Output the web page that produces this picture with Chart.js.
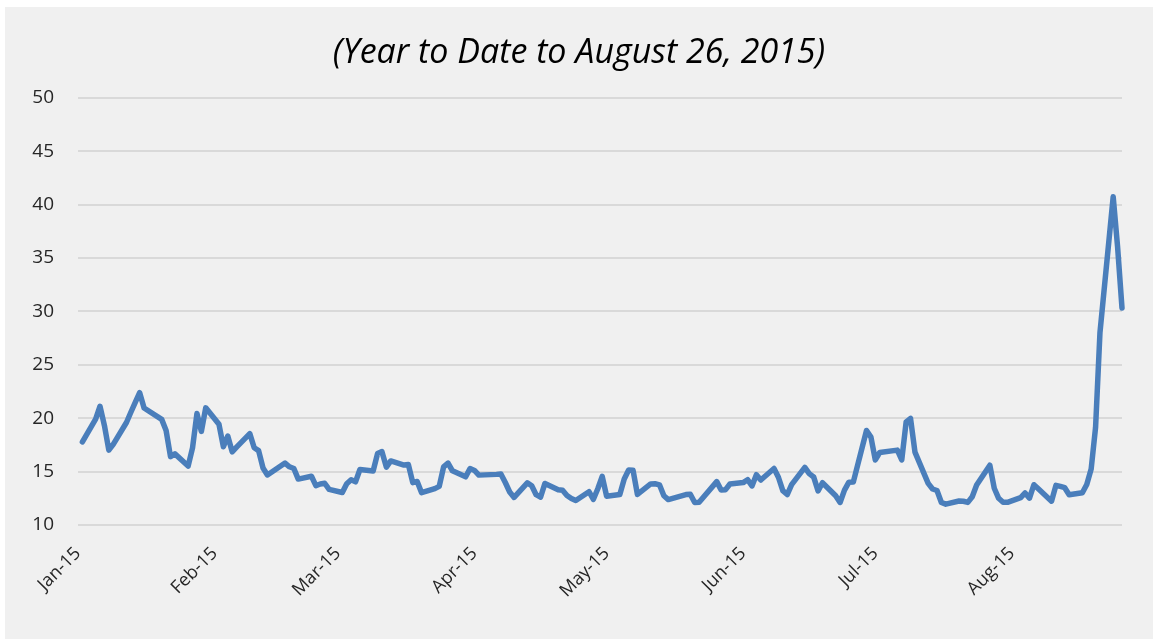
<!DOCTYPE html>
<html>
<head>
<meta charset="utf-8">
<script src="https://cdn.jsdelivr.net/npm/chart.js@4"></script>
<style>
    html, body { margin: 0; padding: 0; background: #ffffff; }
    #wrap { position: absolute; left: 5px; top: 7px; width: 1148px; height: 632px; background: #f0f0f0; }
</style>
</head>
<body>
<div id="wrap"><canvas id="vixChart"></canvas></div>
<script>
        const lineBlue = '#4A7EBB';
        const textDark = '#262626';
        const gridGray = '#d9d9d9';

        // trading days, Jan 2 - Aug 26 2015
        const tradeDates = [
            '2015-01-02','2015-01-05','2015-01-06','2015-01-07','2015-01-08','2015-01-09','2015-01-12','2015-01-13','2015-01-14','2015-01-15',
            '2015-01-16','2015-01-20','2015-01-21','2015-01-22','2015-01-23','2015-01-26','2015-01-27','2015-01-28','2015-01-29','2015-01-30',
            '2015-02-02','2015-02-03','2015-02-04','2015-02-05','2015-02-06','2015-02-09','2015-02-10','2015-02-11','2015-02-12','2015-02-13',
            '2015-02-17','2015-02-18','2015-02-19','2015-02-20','2015-02-23','2015-02-24','2015-02-25','2015-02-26','2015-02-27',
            '2015-03-02','2015-03-03','2015-03-04','2015-03-05','2015-03-06','2015-03-09','2015-03-10','2015-03-11','2015-03-12','2015-03-13',
            '2015-03-16','2015-03-17','2015-03-18','2015-03-19','2015-03-20','2015-03-23','2015-03-24','2015-03-25','2015-03-26','2015-03-27',
            '2015-03-30','2015-03-31',
            '2015-04-01','2015-04-02','2015-04-06','2015-04-07','2015-04-08','2015-04-09','2015-04-10','2015-04-13','2015-04-14','2015-04-15',
            '2015-04-16','2015-04-17','2015-04-20','2015-04-21','2015-04-22','2015-04-23','2015-04-24','2015-04-27','2015-04-28','2015-04-29',
            '2015-04-30',
            '2015-05-01','2015-05-04','2015-05-05','2015-05-06','2015-05-07','2015-05-08','2015-05-11','2015-05-12','2015-05-13','2015-05-14',
            '2015-05-15','2015-05-18','2015-05-19','2015-05-20','2015-05-21','2015-05-22','2015-05-26','2015-05-27','2015-05-28','2015-05-29',
            '2015-06-01','2015-06-02','2015-06-03','2015-06-04','2015-06-05','2015-06-08','2015-06-09','2015-06-10','2015-06-11','2015-06-12',
            '2015-06-15','2015-06-16','2015-06-17','2015-06-18','2015-06-19','2015-06-22','2015-06-23','2015-06-24','2015-06-25','2015-06-26',
            '2015-06-29','2015-06-30',
            '2015-07-01','2015-07-02','2015-07-06','2015-07-07','2015-07-08','2015-07-09','2015-07-10','2015-07-13','2015-07-14','2015-07-15',
            '2015-07-16','2015-07-17','2015-07-20','2015-07-21','2015-07-22','2015-07-23','2015-07-24','2015-07-27','2015-07-28','2015-07-29',
            '2015-07-30','2015-07-31',
            '2015-08-03','2015-08-04','2015-08-05','2015-08-06','2015-08-07','2015-08-10','2015-08-11','2015-08-12','2015-08-13','2015-08-14',
            '2015-08-17','2015-08-18','2015-08-19','2015-08-20','2015-08-21','2015-08-24','2015-08-25','2015-08-26'
        ];

        const vixClose = [
            17.79, 19.92, 21.12, 19.31, 17.01, 17.55, 19.60, 20.56, 21.48, 22.39,
            20.95, 19.89, 18.85, 16.40, 16.66, 15.52, 17.22, 20.44, 18.76, 20.97,
            19.43, 17.33, 18.33, 16.85, 17.29, 18.55, 17.23, 16.96, 15.34, 14.69,
            15.80, 15.45, 15.29, 14.30, 14.56, 13.69, 13.84, 13.91, 13.34,
            13.04, 13.86, 14.23, 14.04, 15.20, 15.06, 16.69, 16.87, 15.42, 16.00,
            15.61, 15.66, 13.97, 14.07, 13.02, 13.41, 13.62, 15.44, 15.80, 15.07,
            14.51, 15.29,
            15.11, 14.67, 14.74, 14.78, 13.98, 13.09, 12.58, 13.94, 13.67, 12.84,
            12.60, 13.89, 13.30, 13.25, 12.76, 12.48, 12.29, 13.12, 12.41, 13.39,
            14.55,
            12.70, 12.85, 14.31, 15.15, 15.13, 12.86, 13.85, 13.86, 13.76, 12.74,
            12.38, 12.73, 12.85, 12.88, 12.11, 12.13, 14.06, 13.27, 13.31, 13.84,
            13.97, 14.24, 13.66, 14.71, 14.21, 15.29, 14.47, 13.22, 12.85, 13.78,
            15.39, 14.81, 14.50, 13.19, 13.96, 12.74, 12.11, 13.26, 14.01, 14.02,
            18.85, 18.23,
            16.09, 16.79, 17.01, 16.09, 19.66, 19.97, 16.83, 13.90, 13.37, 13.23,
            12.11, 11.95, 12.25, 12.22, 12.12, 12.64, 13.74, 15.60, 13.44, 12.50,
            12.13, 12.12,
            12.56, 13.00, 12.51, 13.77, 13.39, 12.23, 13.71, 13.61, 13.49, 12.83,
            13.02, 13.79, 15.25, 19.14, 28.03, 40.74, 36.02, 30.32
        ];

        const monthStarts = ['2015-01-01','2015-02-01','2015-03-01','2015-04-01','2015-05-01','2015-06-01','2015-07-01','2015-08-01'];
        const monthLabels = ['Jan-15','Feb-15','Mar-15','Apr-15','May-15','Jun-15','Jul-15','Aug-15'];
        const yTicks = [10, 15, 20, 25, 30, 35, 40, 45, 50];

        // day number from Jan 1 so the x axis spaces calendar days like a date axis
        function dayNum(s) {
            const p = s.split('-').map(Number);
            return (Date.UTC(p[0], p[1] - 1, p[2]) - Date.UTC(2015, 0, 1)) / 86400000;
        }
        const monthDays = monthStarts.map(dayNum);

        const ctx = document.getElementById('vixChart').getContext('2d');
        new Chart(ctx, {
            type: 'line',
            data: {
                datasets: [{
                    label: 'VIX',
                    data: tradeDates.map((d, i) => ({ x: dayNum(d), y: vixClose[i] })),
                    borderColor: lineBlue,
                    borderWidth: 5.5,
                    pointRadius: 0,
                    tension: 0,
                    fill: false,
                    clip: false,
                    borderJoinStyle: 'round',
                    borderCapStyle: 'round'
                }]
            },
            options: {
                responsive: true,
                maintainAspectRatio: false,
                animation: false,
                layout: { padding: 0 },
                scales: {
                    x: {
                        type: 'linear',
                        min: monthDays[0],
                        max: dayNum(tradeDates[tradeDates.length - 1]),
                        grid: { display: false },
                        border: { display: false },
                        afterBuildTicks: function(scale) {
                            scale.ticks = monthDays.map(v => ({ value: v }));
                        },
                        afterFit: function(scale) { scale.height = 114; },
                        ticks: {
                            autoSkip: false,
                            minRotation: 45,
                            maxRotation: 45,
                            padding: 10,
                            color: textDark,
                            font: { family: 'Open Sans', size: 18 },
                            callback: function(value) {
                                const i = monthDays.indexOf(value);
                                return i >= 0 ? monthLabels[i] : '';
                            }
                        }
                    },
                    y: {
                        min: yTicks[0],
                        max: yTicks[yTicks.length - 1],
                        grid: { color: gridGray, lineWidth: 2, drawTicks: false },
                        border: { display: false },
                        afterFit: function(scale) { scale.width = 73; },
                        ticks: {
                            stepSize: 5,
                            padding: 24,
                            color: textDark,
                            font: { family: 'Open Sans', size: 19 }
                        }
                    },
                    // empty right-hand spacer so the title stays centred on the whole canvas
                    yRight: {
                        position: 'right',
                        grid: { display: false },
                        border: { display: false },
                        ticks: { display: false },
                        afterFit: function(scale) { scale.width = 31; }
                    }
                },
                plugins: {
                    legend: { display: false },
                    tooltip: { enabled: false },
                    title: {
                        display: true,
                        text: '(Year to Date to August 26, 2015)',
                        color: '#000000',
                        font: { family: 'Open Sans', size: 34, style: 'italic', weight: 'normal' },
                        padding: { top: 26, bottom: 24 }
                    }
                }
            }
        });
</script>
</body>
</html>
